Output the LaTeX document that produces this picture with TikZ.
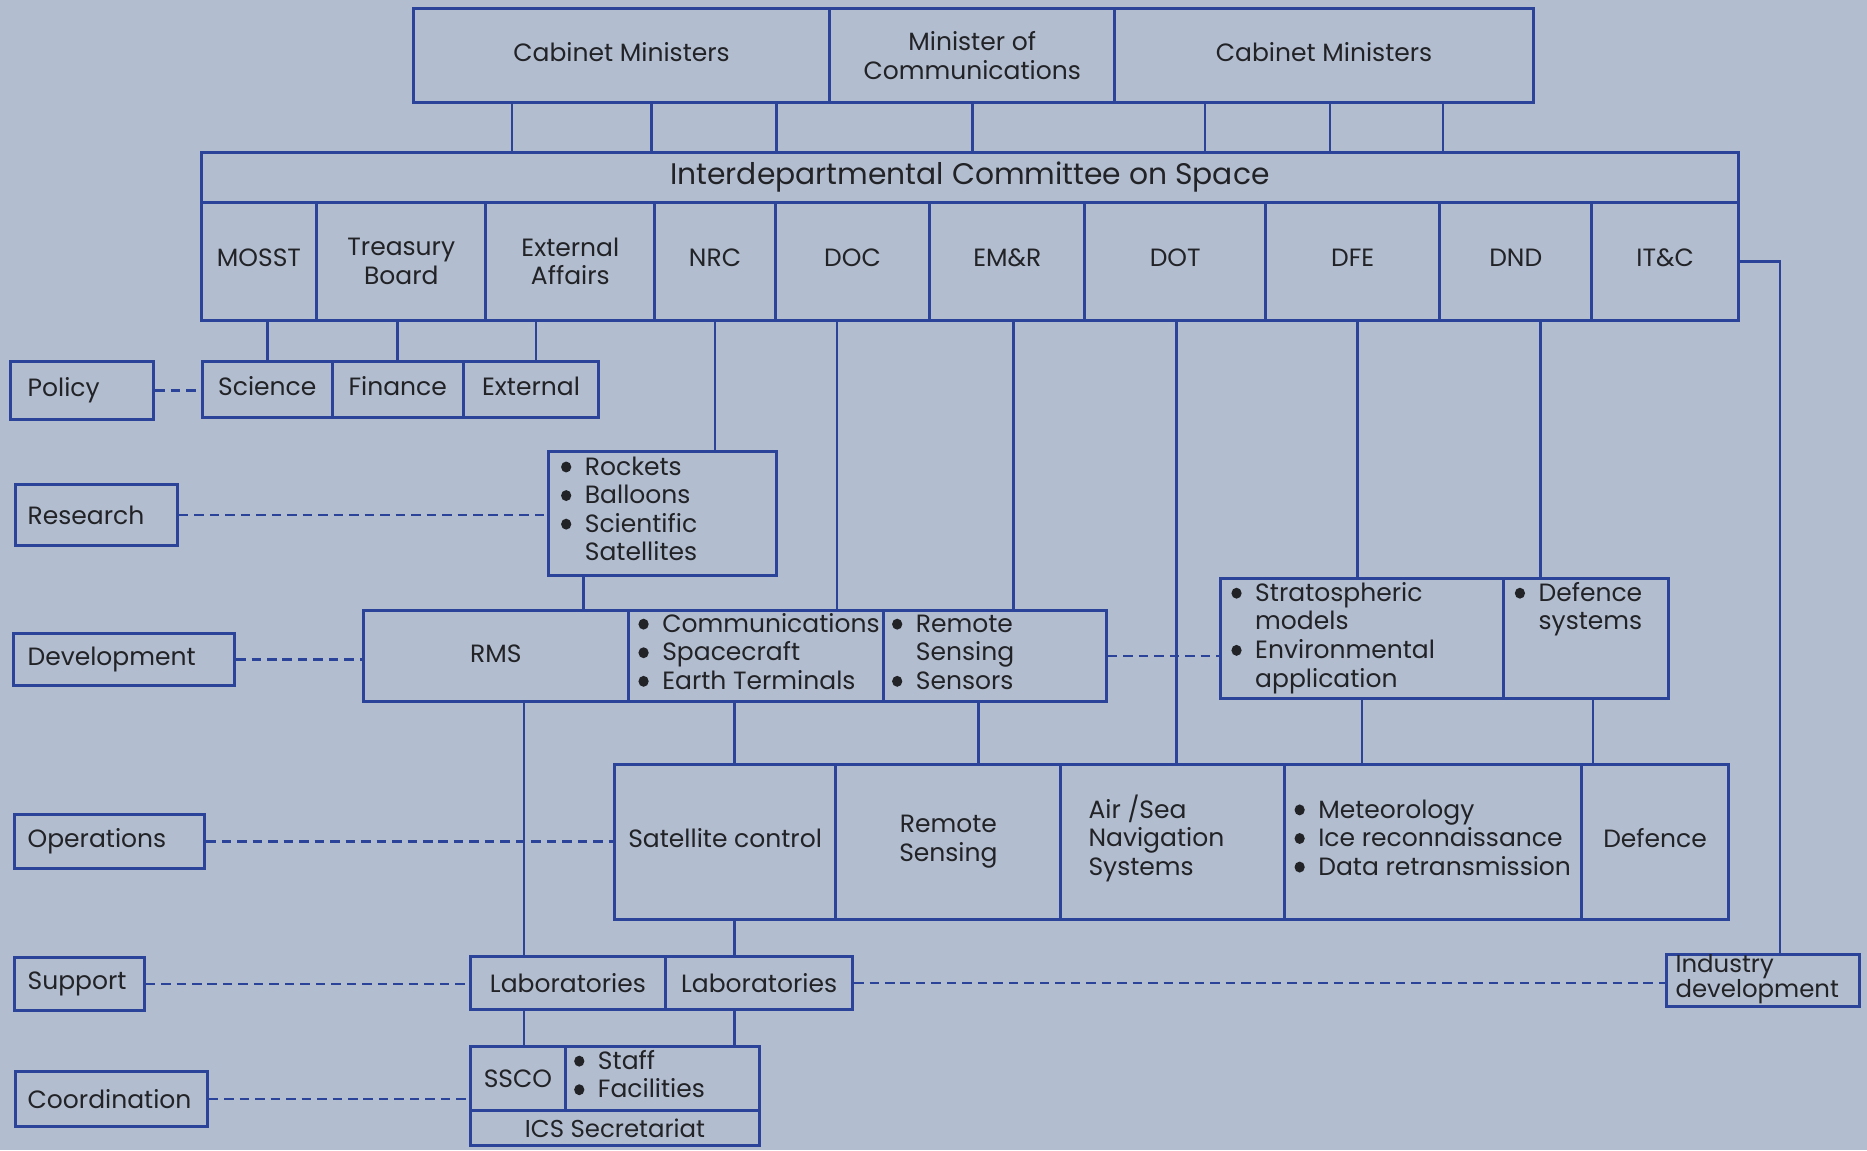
\documentclass[tikz,border=0pt]{standalone}
\usepackage{fontspec}
\setmainfont{Poppins}
\usetikzlibrary{calc}
\definecolor{bg}{HTML}{B2BDCF}
\definecolor{ln}{HTML}{2B4399}
\definecolor{ink}{HTML}{222327}
\newcommand\mkcell[7][]{\node[cell,minimum width={(#5)-(#3)},minimum height={(#6)-(#4)},#1] (#2) at ({((#3)+(#5))/2},{((#4)+(#6))/2}) {#7};}
\newcommand\bl{\makebox[20pt][l]{\tikz[baseline=0pt,x=1pt,y=1pt]\fill[ink] (4.3,6.8) ellipse (4.3pt and 4.6pt);}}
\newcommand\ind{\hspace*{20pt}}
\newcommand\lst[1]{\begin{tabular}[t]{@{}l@{}}#1\end{tabular}}
\tikzset{
  cell/.style={draw=ln, line width=2.5pt, inner sep=0pt, align=center, text=ink, font=\fontsize{21}{24}\selectfont},
  one/.style={text height=15pt, text depth=5pt},
  txt/.style={inner sep=0pt, text=ink, font=\fontsize{21}{24}\selectfont},
  conn/.style={draw=ln, line width=2.2pt},
  dashln/.style={draw=ln, line width=2.2pt, dash pattern=on 8pt off 5pt},
}
\begin{document}
\begin{tikzpicture}[x=1pt,y=-1pt]
\fill[bg] (0,0) rectangle (1568,966);
\useasboundingbox (0,0) rectangle (1568,966);
% top
\mkcell[one]{cmA}{347}{7}{697}{86}{Cabinet Ministers}
\mkcell{moc}{697}{7}{936}{86}{Minister of\\Communications}
\mkcell[one]{cmB}{936}{7}{1288}{86}{Cabinet Ministers}
\mkcell[font=\fontsize{25}{28}\selectfont]{ics}{169}{128}{1460}{170}{Interdepartmental Committee on Space}
\foreach \x in {430,547,652} \draw[conn] (cmA.south -| \x,0) -- (ics.north -| \x,0);
\draw[conn] (moc.south) -- (ics.north -| moc.south);
\foreach \x in {1012,1117,1212} \draw[conn] (cmB.south -| \x,0) -- (ics.north -| \x,0);
% departments
\mkcell[one,text depth=7pt]{mosst}{169}{170}{266}{269}{MOSST}
\mkcell{tb}{266}{170}{408}{269}{Treasury\\Board}
\mkcell{ea}{408}{170}{550}{269}{External\\Affairs}
\mkcell[one,text depth=7pt]{nrc}{550}{170}{651}{269}{NRC}
\mkcell[one,text depth=7pt]{doc}{651}{170}{781}{269}{DOC}
\mkcell[one,text depth=7pt]{emr}{781}{170}{911}{269}{EM\&R}
\mkcell[one,text depth=7pt]{dot}{911}{170}{1063}{269}{DOT}
\mkcell[one,text depth=7pt]{dfe}{1063}{170}{1209}{269}{DFE}
\mkcell[one,text depth=7pt]{dnd}{1209}{170}{1337}{269}{DND}
\mkcell[one,text depth=7pt]{itc}{1337}{170}{1460}{269}{IT\&C}
% policy
\mkcell{policy}{9}{304}{129}{352}{}
\node[txt,anchor=west] (policyt) at (policy.west -| 23,0) {Policy};
\mkcell[one]{sci}{170}{304}{279}{351}{Science}
\mkcell[one]{fin}{279}{304}{389}{351}{Finance}
\mkcell[one]{ext}{389}{304}{503}{351}{External}
\draw[conn] (mosst.south -| sci.north) -- (sci.north);
\draw[conn] (tb.south -| fin.north) -- (fin.north);
\draw[conn] (ea.south -| 450,0) -- (ext.north -| 450,0);
\draw[dashln] (policy.east) -- (sci.west |- policy.east);
% research
\mkcell{rock}{461}{379}{652}{483}{}
\node[txt,anchor=base west] (rockl) at (471,399) {\lst{\bl Rockets\\ \bl Balloons\\ \bl Scientific\\ \ind Satellites}};
\draw[conn] (nrc.south) -- (nrc.south |- rock.north);
\mkcell{research}{13}{407}{149}{458}{}
\node[txt,anchor=west] (researcht) at (research.west -| 23,0) {Research};
\draw[dashln] (research.east) -- (rock.west |- research.east);
% development
\mkcell[one]{rms}{305}{513}{528}{589}{RMS}
\mkcell{comm}{528}{513}{742}{589}{}
\mkcell{rsens}{742}{513}{929}{589}{}
\node[txt,anchor=base west] (comml) at (536,531) {\lst{\bl Communications\\ \bl Spacecraft\\ \bl Earth Terminals}};
\node[txt,anchor=base west] (rsensl) at (749,531) {\lst{\bl Remote\\ \ind Sensing\\ \bl Sensors}};
\draw[conn] (rock.south -| 490,0) -- (rms.north -| 490,0);
\draw[conn] (doc.south -| 703,0) -- (comm.north -| 703,0);
\draw[conn] (emr.south -| 851,0) -- (rsens.north -| 851,0);
\mkcell{devl}{11}{532}{197}{576}{}
\node[txt,anchor=west] (devlt) at (devl.west -| 23,0) {Development};
\draw[dashln] (devl.east) -- (rms.west |- devl.east);
\mkcell{strat}{1025}{486}{1263}{587}{}
\mkcell{defs}{1263}{486}{1401}{587}{}
\node[txt,anchor=base west] (stratl) at (1034,505) {\lst{\bl Stratospheric\\ \ind models\\ \bl Environmental\\ \ind application}};
\node[txt,anchor=base west] (defsl) at (1272,505) {\lst{\bl Defence\\ \ind systems}};
\draw[dashln] (rsens.east) -- (strat.west |- rsens.east);
\draw[conn] (dfe.south -| 1140,0) -- (strat.north -| 1140,0);
\draw[conn] (dnd.south -| 1294,0) -- (defs.north -| 1294,0);
% operations
\mkcell[one]{satc}{516}{642}{702}{772}{Satellite control}
\mkcell{rsop}{702}{642}{891}{772}{Remote\\Sensing}
\mkcell{nav}{891}{642}{1079}{772}{}
\mkcell{met}{1079}{642}{1328}{772}{}
\mkcell[one]{def}{1328}{642}{1452}{772}{Defence}
\node[txt,anchor=base west] (navl) at (914,687) {\lst{Air /Sea\\ Navigation\\ Systems}};
\node[txt,anchor=base west] (metl) at (1087,687) {\lst{\bl Meteorology\\ \bl Ice reconnaissance\\ \bl Data retransmission}};
\draw[conn] (dot.south -| 988,0) -- (nav.north -| 988,0);
\draw[conn] (comm.south -| 617,0) -- (satc.north -| 617,0);
\draw[conn] (rsens.south -| 822,0) -- (rsop.north -| 822,0);
\draw[conn] (strat.south -| 1144,0) -- (met.north -| 1144,0);
\draw[conn] (defs.south -| 1338,0) -- (def.north -| 1338,0);
\mkcell{opsl}{12}{684}{172}{729}{}
\node[txt,anchor=west] (opslt) at (opsl.west -| 23,0) {Operations};
\draw[dashln] (opsl.east) -- (satc.west |- opsl.east);
% support
\mkcell{labA}{395}{803}{559}{848}{Laboratories}
\mkcell{labB}{559}{803}{716}{848}{Laboratories}
\draw[conn] (rms.south -| 440,0) -- (labA.north -| 440,0);
\draw[conn] (satc.south -| 617,0) -- (labB.north -| 617,0);
\mkcell{supl}{12}{804}{121}{849}{}
\node[txt,anchor=west] (suplt) at (supl.west -| 23,0) {Support};
\draw[dashln] (supl.east) -- (labA.west |- supl.east);
\mkcell{ind}{1400}{802}{1562}{845}{}
\node[txt,anchor=base west,font=\fontsize{20.5}{17}\selectfont] (indl) at (1407,817) {\lst{Industry\\ development}};
\draw[dashln] (labB.east) -- (ind.west |- labB.east);
\draw[conn] (itc.east) -| (ind.north -| 1495,0);
% coordination
\mkcell{ssco}{395}{879}{475}{933}{SSCO}
\mkcell{staff}{475}{879}{638}{933}{}
\mkcell[font=\fontsize{20.5}{22}\selectfont]{icssec}{395}{933}{638}{962}{ICS Secretariat}
\node[txt,anchor=base west] (staffl) at (482,898) {\lst{\bl Staff\\ \bl Facilities}};
\draw[conn] (labA.south -| 440,0) -- (ssco.north -| 440,0);
\draw[conn] (labB.south -| 617,0) -- (staff.north -| 617,0);
\mkcell{coordl}{13}{900}{174}{946}{}
\node[txt,anchor=west] (coordlt) at (coordl.west -| 23,0) {Coordination};
\draw[dashln] (coordl.east) -- (ssco.west |- coordl.east);
\end{tikzpicture}
\end{document}
